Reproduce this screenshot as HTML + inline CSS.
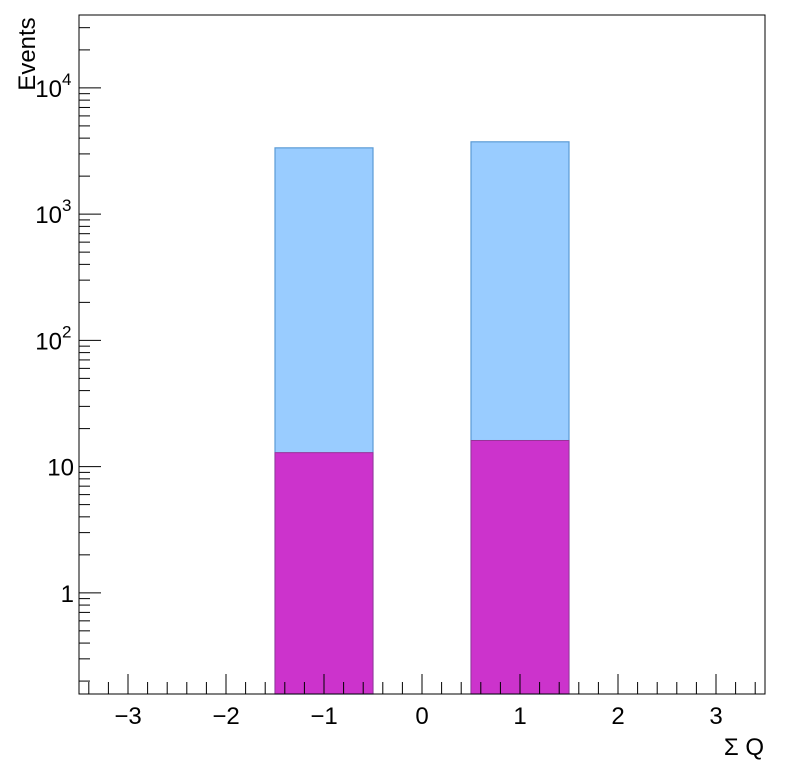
<!DOCTYPE html>
<html><head><meta charset="utf-8"><style>
body{margin:0;background:#fff}
svg text{font-family:"Liberation Sans",sans-serif;fill:#000}
</style></head><body>
<svg id="c" width="796" height="772" xmlns="http://www.w3.org/2000/svg">
<rect x="0" y="0" width="796" height="772" fill="#fff"/>
<g id="bars"></g>
<g id="axes"></g>
<rect x="79" y="15" width="686" height="679" fill="none" stroke="#000" stroke-width="1"/>
<text x="35" y="54" font-size="24" transform="rotate(-90 35 54)" text-anchor="middle">Events</text>
<text x="764" y="755" font-size="24" text-anchor="end">Σ Q</text>
</svg>
<script>
const binLow=[-1.5,0.5];
const binHigh=[-0.5,1.5];
const signalVals=[12.9,16.1];
const totalVals=[3350,3740];
const xTicks=[-3,-2,-1,0,1,2,3];
const xTickLabels=["\u22123","\u22122","\u22121","0","1","2","3"];
const yDecades=[1,10,100,1000,10000];
const yTickBase=["1","10","10","10","10"];
const yTickExp=["","","2","3","4"];

const X0=79,X1=765,Y0=694,Y1=15,xmin=-3.5,xmax=3.5;
const lmin=Math.log10(0.158),lmax=Math.log10(37800);
const sx=v=>X0+(v-xmin)/(xmax-xmin)*(X1-X0);
const sy=v=>Y0-(Math.log10(Math.max(v,1e-9))-lmin)/(lmax-lmin)*(Y0-Y1);
const NS="http://www.w3.org/2000/svg";
function mk(tag,attrs,parent){const e=document.createElementNS(NS,tag);for(const k in attrs)e.setAttribute(k,attrs[k]);parent.appendChild(e);return e;}
const bars=document.getElementById('bars'),axes=document.getElementById('axes');
for(let i=0;i<binLow.length;i++){
  const x=sx(binLow[i]),w=sx(binHigh[i])-x;
  const yt=Math.max(sy(totalVals[i]),Y1);
  const b=mk('rect',{x:x,y:yt,width:w,height:Y0-yt,fill:'#99ccff',stroke:'#5b9bd5','stroke-width':1.2},bars);
  
  
  const ys=Math.max(sy(signalVals[i]),Y1);
  const s=mk('rect',{x:x,y:ys,width:w,height:Y0-ys,fill:'#cc33cc',stroke:'#993399','stroke-width':1},bars);
  
  
}
for(let k=-34;k<=34;k+=2){
  const v=k/10;const x=sx(v);
  const major=(k%10===0);
  const t=mk('line',{x1:x,x2:x,y1:Y0,y2:Y0-(major?20:12),stroke:'#000','stroke-width':1},axes);
  
  
}
for(let i=0;i<xTicks.length;i++){
  const t=mk('text',{x:sx(xTicks[i]),y:724,'font-size':24,'text-anchor':'middle'},axes);
  t.textContent=xTickLabels[i];
  
  
}
for(let d=-1;d<=4;d++){
  for(let m=1;m<=9;m++){
    const v=m*Math.pow(10,d);const y=sy(v);
    if(y>Y0||y<Y1)continue;
    const t=mk('line',{x1:X0,x2:X0+(m===1?22:11),y1:y,y2:y,stroke:'#000','stroke-width':1},axes);
    
    
  }
}
for(let i=0;i<yDecades.length;i++){
  const hasExp=yTickExp[i]!=="";
  const t=mk('text',{x:hasExp?62:74,y:sy(yDecades[i])+9,'font-size':24,'text-anchor':'end'},axes);
  t.textContent=yTickBase[i];
  
  
  if(hasExp){
    const e=mk('text',{x:62,y:sy(yDecades[i])-3,'font-size':17,'text-anchor':'start'},axes);
    e.textContent=yTickExp[i];
    
    
  }
}
</script>
</body></html>
